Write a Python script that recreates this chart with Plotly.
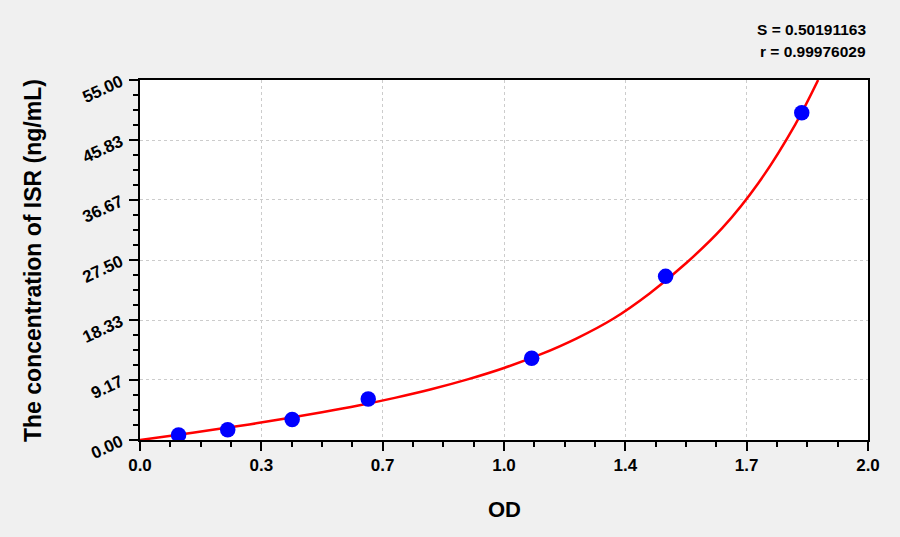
import plotly.graph_objects as go

# standard points (OD vs concentration)
od = [0.106, 0.241, 0.418, 0.627, 1.076, 1.444, 1.818]
conc = [0.78, 1.56, 3.13, 6.25, 12.5, 25.0, 50.0]

# fitted curve
curve_od = [0.0, 0.1, 0.2, 0.3, 0.4, 0.5, 0.6, 0.7, 0.8, 0.9, 1.0,
            1.1, 1.2, 1.3, 1.4, 1.5, 1.6, 1.7, 1.8, 1.863]
curve_conc = [0.0, 0.76, 1.55, 2.38, 3.27, 4.23, 5.27, 6.44, 7.75, 9.26, 11.0,
              13.07, 15.54, 18.53, 22.4, 27.0, 32.4, 39.35, 48.2, 55.0]

x_ticks = [0, 1/3, 2/3, 1, 4/3, 5/3, 2]
x_labels = ["0.0", "0.3", "0.7", "1.0", "1.4", "1.7", "2.0"]
y_ticks = [0, 9.17, 18.33, 27.5, 36.67, 45.83, 55.0]
y_labels = ["0.00", "9.17", "18.33", "27.50", "36.67", "45.83", "55.00"]

s_text = "S = 0.50191163"
r_text = "r = 0.99976029"

font = "Arial, Liberation Sans, sans-serif"

fig = go.Figure()
fig.add_trace(go.Scatter(x=curve_od, y=curve_conc, mode="lines",
                         line=dict(color="#ff0000", width=2.5, shape="spline", smoothing=1),
                         hoverinfo="skip"))
fig.add_trace(go.Scatter(x=od, y=conc, mode="markers",
                         marker=dict(color="#0000ff", size=15.5)))

axis_common = dict(
    showline=True, linecolor="black", linewidth=1.5, mirror=True,
    ticks="outside", ticklen=9, tickwidth=1.5, tickcolor="black",
    showgrid=True, gridcolor="#cccccc", gridwidth=1, griddash="dot",
    zeroline=False,
    tickfont=dict(family=font, size=17, color="black", weight="bold"),
)

fig.update_xaxes(range=[0, 2], tickmode="array", tickvals=x_ticks, ticktext=x_labels,
                 minor=dict(tick0=0, dtick=1/12, ticks="outside", ticklen=5,
                            tickwidth=1.5, tickcolor="black", showgrid=False),
                 **axis_common)
fig.update_yaxes(range=[0, 55], tickmode="array", tickvals=y_ticks, ticktext=y_labels,
                 tickangle=-25, ticklabelstandoff=5,
                 minor=dict(tick0=0, dtick=55/24, ticks="outside", ticklen=5,
                            tickwidth=1.5, tickcolor="black", showgrid=False),
                 **axis_common)

title_font = dict(family=font, size=22, color="black", weight="bold")
stat_font = dict(family=font, size=15.5, color="black", weight="bold")

fig.update_layout(
    width=900, height=537,
    margin=dict(l=140, r=32, t=80, b=97),
    paper_bgcolor="#f0f0f0", plot_bgcolor="white",
    showlegend=False,
    annotations=[
        dict(text="OD", xref="paper", yref="paper", x=0.5, y=-0.193,
             xanchor="center", yanchor="middle", showarrow=False, font=title_font),
        dict(text="The concentration of ISR (ng/mL)", xref="paper", yref="paper",
             x=-0.147, y=0.5, xanchor="center", yanchor="middle", textangle=-90,
             showarrow=False, font=dict(title_font, size=23)),
        dict(text=s_text, xref="paper", yref="paper", x=1, y=1.139,
             xanchor="right", yanchor="middle", showarrow=False, font=stat_font),
        dict(text=r_text, xref="paper", yref="paper", x=1, y=1.078,
             xanchor="right", yanchor="middle", showarrow=False, font=stat_font),
    ],
)

fig.write_html("out.html", config={"displayModeBar": False},
               post_script="document.body.style.margin='0';")
